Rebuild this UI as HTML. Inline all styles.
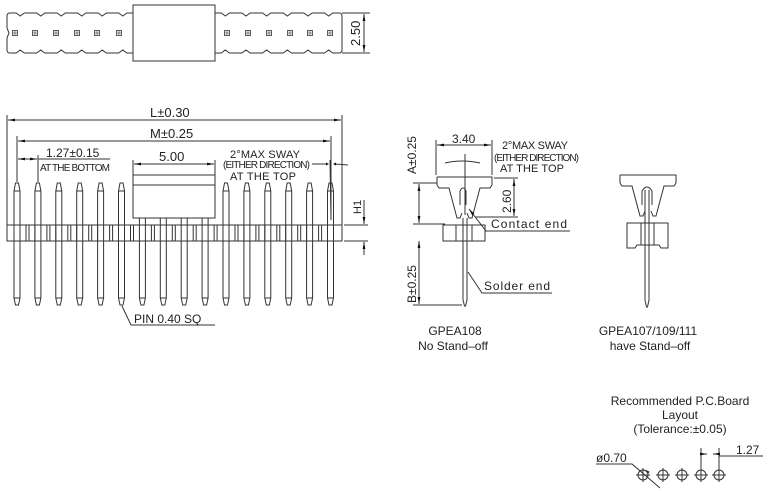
<!DOCTYPE html>
<html><head><meta charset="utf-8"><style>
html,body{margin:0;padding:0;background:#fff;}
svg{display:block;}
text{font-family:"Liberation Sans",sans-serif;fill:#222;}
</style></head><body>
<svg id="s" width="768" height="491" viewBox="0 0 768 491" xmlns="http://www.w3.org/2000/svg" fill="none" stroke="#333" stroke-width="1">
<defs>
<marker id="a" viewBox="0 0 10 10" refX="10" refY="5" markerWidth="7" markerHeight="7" orient="auto-start-reverse"><path d="M0,3 L10,5 L0,7z" fill="#111" stroke="none"/></marker>
</defs>
<g id="g"></g>
<!-- top view -->
<rect x="133" y="5" width="82" height="56"/>
<line x1="342" y1="13" x2="370" y2="13"/><line x1="342" y1="53" x2="370" y2="53"/>
<line x1="364" y1="14" x2="364" y2="52" marker-start="url(#a)" marker-end="url(#a)"/>
<text x="0" y="0" font-size="13" stroke="none" transform="translate(360,46) rotate(-90)">2.50</text>

<!-- front view dims -->
<line x1="7" y1="115" x2="7" y2="225"/><line x1="342" y1="115" x2="342" y2="225"/>
<line x1="8" y1="120" x2="341" y2="120" marker-start="url(#a)" marker-end="url(#a)"/>
<text x="150" y="117" font-size="13" stroke="none">L±0.30</text>
<line x1="17" y1="136" x2="17" y2="182"/><line x1="331" y1="136" x2="331" y2="220"/>
<line x1="18" y1="141" x2="330" y2="141" marker-start="url(#a)" marker-end="url(#a)"/>
<text x="150" y="138" font-size="13" stroke="none">M±0.25</text>
<line x1="38" y1="155" x2="38" y2="182"/>
<line x1="18" y1="159" x2="37" y2="159" marker-start="url(#a)" marker-end="url(#a)"/>
<line x1="38" y1="159" x2="110" y2="159"/>
<text x="46" y="157" font-size="12" stroke="none">1.27±0.15</text>
<text x="40" y="171" font-size="10" stroke="none" textLength="70">AT THE BOTTOM</text>
<line x1="133" y1="160" x2="133" y2="175"/><line x1="215" y1="160" x2="215" y2="175"/>
<line x1="134" y1="164" x2="214" y2="164" marker-start="url(#a)" marker-end="url(#a)"/>
<text x="159" y="161" font-size="13" stroke="none">5.00</text>
<text x="230" y="158" font-size="11" stroke="none" textLength="70">2°MAX SWAY</text>
<text x="223" y="168" font-size="10" stroke="none" textLength="87">(EITHER DIRECTION)</text>
<text x="230" y="180" font-size="11" stroke="none" textLength="66">AT THE TOP</text>
<line x1="312" y1="164" x2="327" y2="164"/><line x1="335" y1="164" x2="348" y2="165"/>
<path d="M329,164 l-3,-1.5 v3z M333,164 l3,-1.5 v3z" fill="#111" stroke="none"/>
<line x1="330" y1="160" x2="331" y2="220"/>
<rect x="133" y="175" width="82" height="43"/><line x1="133" y1="185" x2="215" y2="185"/>
<line x1="344" y1="225" x2="368" y2="225"/><line x1="344" y1="241" x2="368" y2="241"/>
<line x1="364" y1="200" x2="364" y2="224" marker-end="url(#a)"/>
<line x1="364" y1="255" x2="364" y2="242" marker-end="url(#a)"/>
<text x="0" y="0" font-size="11" stroke="none" transform="translate(361,214) rotate(-90)">H1</text>
<path d="M122,306 L131,325 L215,325"/>
<text x="134" y="323" font-size="12" stroke="none">PIN 0.40 SQ</text>

<!-- GPEA108 -->
<text x="0" y="0" font-size="12" stroke="none" transform="translate(416,174) rotate(-90)">A±0.25</text>
<line x1="413" y1="183" x2="437" y2="183"/><line x1="413" y1="224" x2="445" y2="224"/>
<line x1="419" y1="184" x2="419" y2="223" marker-start="url(#a)" marker-end="url(#a)"/>
<line x1="413" y1="305" x2="462" y2="305"/>
<line x1="419" y1="241" x2="419" y2="304" marker-start="url(#a)" marker-end="url(#a)"/>
<text x="0" y="0" font-size="12" stroke="none" transform="translate(416,303) rotate(-90)">B±0.25</text>
<line x1="436" y1="140" x2="436" y2="175"/><line x1="492" y1="140" x2="492" y2="175"/>
<line x1="437" y1="145" x2="491" y2="145" marker-start="url(#a)" marker-end="url(#a)"/>
<text x="452" y="143" font-size="12" stroke="none">3.40</text>
<text x="502" y="149" font-size="11" stroke="none" textLength="66">2°MAX SWAY</text>
<text x="494" y="161" font-size="10" stroke="none" textLength="85">(EITHER DIRECTION)</text>
<text x="500" y="172" font-size="11" stroke="none" textLength="64">AT THE TOP</text>
<path d="M445,163 Q462,159 480,163"/><line x1="465" y1="154" x2="465" y2="215"/>
<line x1="494" y1="178" x2="518" y2="178"/><line x1="475" y1="217" x2="518" y2="217"/>
<line x1="514" y1="179" x2="514" y2="216" marker-start="url(#a)" marker-end="url(#a)"/>
<text x="0" y="0" font-size="12" stroke="none" transform="translate(511,213) rotate(-90)">2.60</text>
<path d="M437,177 h55 v8 l-2,3 h-10 l-8,30 h-3 l-2,-5 M437,177 v8 l2,3 h10 l8,30 h3 l2,-5"/>
<path d="M460,205 v-14 q3,-6 6,0 v14"/>
<rect x="443" y="225" width="42" height="16"/>
<line x1="456" y1="225" x2="456" y2="241"/><line x1="472" y1="225" x2="472" y2="241"/>
<path d="M463,218 V300 l1.5,6 h1 l1.5,-6 V218"/>
<path d="M469,209 L486,231 L570,231" marker-start="url(#a)"/>
<text x="491" y="228" font-size="12" stroke="none" textLength="76">Contact end</text>
<path d="M468,272 L482,293 L552,293"/>
<text x="484" y="290" font-size="12" stroke="none" textLength="66">Solder end</text>
<text x="455" y="335" font-size="12" stroke="none" text-anchor="middle">GPEA108</text>
<text x="453" y="350" font-size="12" stroke="none" text-anchor="middle">No Stand–off</text>

<!-- GPEA107 -->
<path d="M620,175 h56 v8 l-2,3 h-10 l-8,30 h-3 l-2,-5 M620,175 v8 l2,3 h10 l8,30 h3 l2,-5"/>
<path d="M642,205 v-14 q5,-8 10,0 v14"/>
<path d="M627,223 h41 v25 h-7 l-2,-3 h-22 l-2,3 h-8z"/>
<line x1="641" y1="223" x2="641" y2="245"/><line x1="654" y1="223" x2="654" y2="245"/>
<path d="M645,190 V300 l1.5,7 h1 l1.5,-7 V190"/>
<text x="648" y="335" font-size="12" stroke="none" text-anchor="middle">GPEA107/109/111</text>
<text x="650" y="350" font-size="12" stroke="none" text-anchor="middle">have Stand–off</text>

<!-- PCB -->
<text x="680" y="405" font-size="12" stroke="none" text-anchor="middle">Recommended P.C.Board</text>
<text x="680" y="419" font-size="12" stroke="none" text-anchor="middle">Layout</text>
<text x="680" y="433" font-size="12" stroke="none" text-anchor="middle">(Tolerance:±0.05)</text>
<text x="596" y="462" font-size="12" stroke="none">ø0.70</text>
<path d="M596,464 H632 L660,488"/>
<path d="M647,471 l2,1 l-1,1z" fill="#111"/>
<line x1="701" y1="448" x2="701" y2="468"/><line x1="719" y1="448" x2="719" y2="468"/>
<line x1="703" y1="454" x2="707" y2="454" marker-end="url(#a)"/>
<line x1="717" y1="454" x2="713" y2="454" marker-end="url(#a)"/>
<line x1="719" y1="456" x2="763" y2="456"/>
<text x="736" y="454" font-size="12" stroke="none">1.27</text>
</svg>
<script>
var g=document.getElementById('g'),h='';
function L(a,b,c,d){h+='<line x1="'+a+'" y1="'+b+'" x2="'+c+'" y2="'+d+'"/>';}
function wave(x1,x2,y,dir){var s='',n=6,w=(x2-x1)/n;for(var i=0;i<n;i++){var a=x1+i*w;s+='L'+(a+w*0.3)+','+y+' L'+(a+w*0.5)+','+(y+dir*3)+' L'+(a+w*0.7)+','+y+' L'+(a+w)+','+y+' ';}return s;}
h+='<path d="M7,16 Q7,13 10,13 '+wave(10,133,13,1)+'"/>';
h+='<path d="M7,50 Q7,53 10,53 '+wave(10,133,53,-1)+'"/>';
h+='<path d="M215,13 '+wave(215,339,13,1)+' Q342,13 342,16 L342,50 Q342,53 339,53"/>';
h+='<path d="M215,53 '+wave(215,339,53,-1)+'"/>';
h+='<path d="M7,16 L7,28 L9,33 L7,38 L7,50"/>';
var tp=[15,35,56,77,97,119,227,248,269,290,310,330];
tp.forEach(function(x){h+='<rect x="'+(x-2.5)+'" y="30.5" width="5" height="5" stroke-width="0.8"/><rect x="'+(x-1)+'" y="32" width="2" height="2" stroke-width="0.6"/>';});
var xs=[];for(var i=0;i<16;i++)xs.push(17+i*20.9);
h+='<rect x="7" y="225" width="335" height="16"/>';
xs.forEach(function(x,i){
 var t=(i>=6&&i<=9)?218:183;
 if(t==183)h+='<path d="M'+(x-3)+',241 V'+(t+8)+' L'+(x-1.5)+','+t+' H'+(x+1.5)+' L'+(x+3)+','+(t+8)+' V225 M'+(x-3)+','+(t+8)+' H'+(x+3)+'"/>';
 else h+='<path d="M'+(x-3)+',225 V218 M'+(x+3)+',225 V218"/>';
 h+='<path d="M'+(x-3)+',241 V298 L'+(x-1.5)+',305 H'+(x+1.5)+' L'+(x+3)+',298 V241 M'+(x-3)+',298 H'+(x+3)+'"/>';
 L(x-3,225,x-3,241);L(x+3,225,x+3,241);
 if(i<15){L(x+9,225,x+9,241);L(x+12,225,x+12,241);}
});
[643,663,682,701,719].forEach(function(x){h+='<circle cx="'+x+'" cy="475" r="5"/>';L(x-7,475,x+7,475);L(x,468,x,482);});
g.innerHTML=h;
</script>
</body></html>
